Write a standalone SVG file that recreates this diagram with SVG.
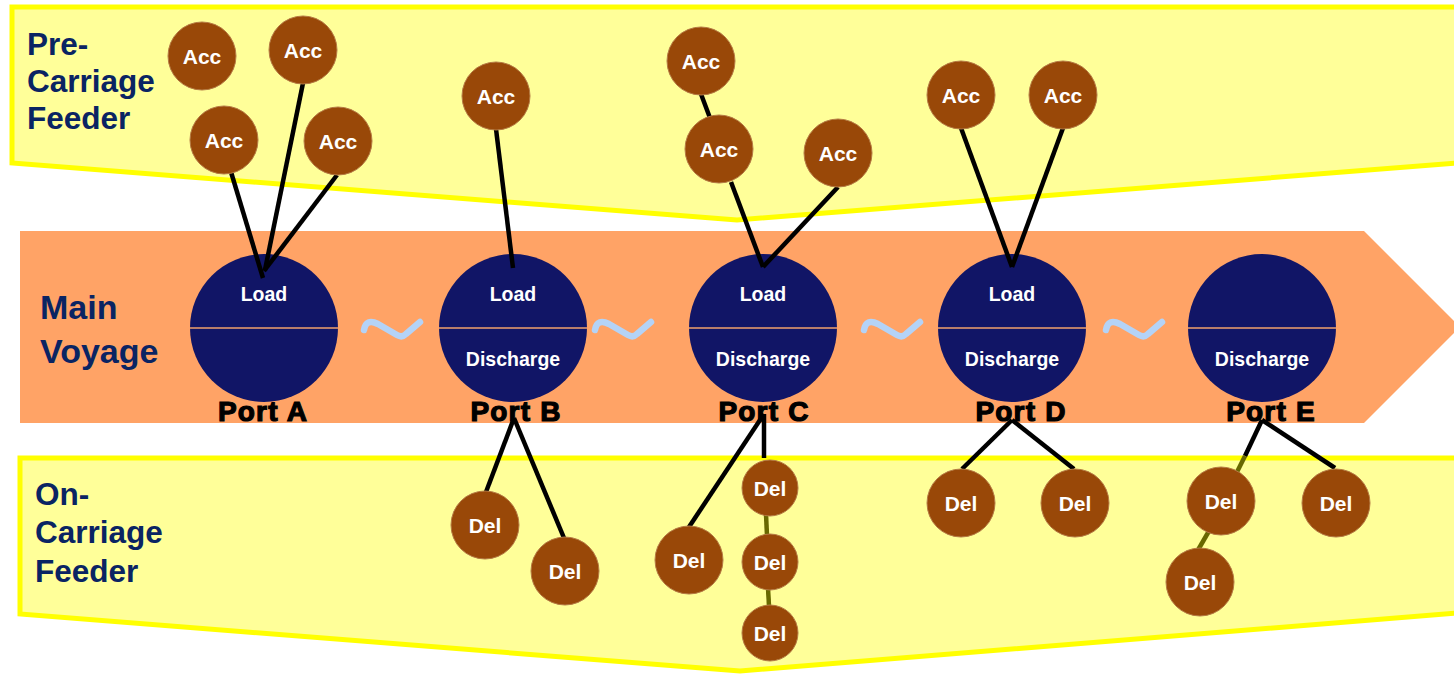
<svg xmlns="http://www.w3.org/2000/svg" xmlns:xlink="http://www.w3.org/1999/xlink" width="1454" height="674" viewBox="0 0 1454 674">
<style>
.band{fill:#FFFF99;stroke:#FFFF00;stroke-width:5;stroke-linejoin:miter}
.main{fill:#FFA366}
.lbl{font-family:"Liberation Sans",Arial,sans-serif;font-weight:bold;fill:#0A2463}
.port{fill:#111566}
.div{stroke:#F2A06C;stroke-width:1.6}
.pt{font-family:"Liberation Sans",Arial,sans-serif;font-weight:bold;font-size:19.5px;fill:#FFFFFF;text-anchor:middle}
.pname{font-family:"Liberation Sans",Arial,sans-serif;font-weight:bold;font-size:28px;fill:#000;stroke:#000;stroke-width:1.2;letter-spacing:1.2px;text-anchor:middle}
.n{fill:#994808;stroke:#B57A44;stroke-width:1}
.nt{font-family:"Liberation Sans",Arial,sans-serif;font-weight:bold;font-size:21px;fill:#FFFFFF;text-anchor:middle}
.c{stroke:#000;stroke-width:4.5;fill:none}
.o{stroke:#686800;stroke-width:4.5;fill:none}
.tl{fill:none;stroke:#B4D3F7;stroke-width:6.5;stroke-linecap:round;stroke-linejoin:round}
</style>
<defs>
<path id="tilde" d="M0,0 Q2,-12 14,-6 L33,5 Q38,8 42,4 L56,-8"/>
</defs>
<g id="pre-carriage">
<polygon class="band" points="12,7 1470,7 1470,162 737,220 12,163"/>
<text class="lbl" font-size="31.5" x="27" y="55">Pre-</text>
<text class="lbl" font-size="31.5" x="27" y="92">Carriage</text>
<text class="lbl" font-size="31.5" x="27" y="129">Feeder</text>
</g>
<g id="on-carriage">
<polygon class="band" points="20,458 1470,458 1470,612 740,671 20,614"/>
<text class="lbl" font-size="31.5" x="35" y="505">On-</text>
<text class="lbl" font-size="31.5" x="35" y="543">Carriage</text>
<text class="lbl" font-size="31.5" x="35" y="582">Feeder</text>
</g>
<g id="main-voyage">
<polygon class="main" points="20,231 1364,231 1460,327 1364,423 20,423"/>
<text class="lbl" font-size="34" x="40" y="319">Main</text>
<text class="lbl" font-size="34" x="40" y="363">Voyage</text>
</g>
<g id="tildes">
<use xlink:href="#tilde" href="#tilde" class="tl" transform="translate(364,330)"/>
<use xlink:href="#tilde" href="#tilde" class="tl" transform="translate(595,330)"/>
<use xlink:href="#tilde" href="#tilde" class="tl" transform="translate(864,330)"/>
<use xlink:href="#tilde" href="#tilde" class="tl" transform="translate(1106,330)"/>
</g>
<g id="port-a">
<circle class="port" cx="264" cy="328" r="74"/>
<line class="div" x1="190" y1="328" x2="338" y2="328"/>
<text class="pt" x="264" y="301">Load</text>
<text class="pname" x="263" y="421">Port A</text>
</g>
<g id="port-b">
<circle class="port" cx="513" cy="328" r="74"/>
<line class="div" x1="439" y1="328" x2="587" y2="328"/>
<text class="pt" x="513" y="301">Load</text>
<text class="pt" x="513" y="366">Discharge</text>
<text class="pname" x="516" y="421">Port B</text>
</g>
<g id="port-c">
<circle class="port" cx="763" cy="328" r="74"/>
<line class="div" x1="689" y1="328" x2="837" y2="328"/>
<text class="pt" x="763" y="301">Load</text>
<text class="pt" x="763" y="366">Discharge</text>
<text class="pname" x="764" y="421">Port C</text>
</g>
<g id="port-d">
<circle class="port" cx="1012" cy="328" r="74"/>
<line class="div" x1="938" y1="328" x2="1086" y2="328"/>
<text class="pt" x="1012" y="301">Load</text>
<text class="pt" x="1012" y="366">Discharge</text>
<text class="pname" x="1021" y="421">Port D</text>
</g>
<g id="port-e">
<circle class="port" cx="1262" cy="328" r="74"/>
<line class="div" x1="1188" y1="328" x2="1336" y2="328"/>
<text class="pt" x="1262" y="366">Discharge</text>
<text class="pname" x="1271" y="421">Port E</text>
</g>
<g id="connectors">
<line class="c" x1="231" y1="172" x2="263" y2="278"/>
<line class="c" x1="303" y1="83" x2="265" y2="270"/>
<line class="c" x1="337" y1="175" x2="264" y2="271"/>
<line class="c" x1="496" y1="129" x2="513" y2="268"/>
<line class="c" x1="701" y1="94" x2="710" y2="118"/>
<line class="c" x1="731" y1="182" x2="763" y2="267"/>
<line class="c" x1="838" y1="187" x2="763" y2="267"/>
<line class="c" x1="961" y1="128" x2="1012" y2="267"/>
<line class="c" x1="1063" y1="128" x2="1012" y2="267"/>
<line class="c" x1="514" y1="418" x2="486" y2="492"/>
<line class="c" x1="514" y1="418" x2="564" y2="538"/>
<line class="c" x1="764" y1="414" x2="689" y2="527"/>
<line class="c" x1="764" y1="414" x2="764" y2="458"/>
<line class="o" x1="766" y1="514" x2="767" y2="536"/>
<line class="o" x1="768" y1="588" x2="769" y2="606"/>
<line class="c" x1="1012" y1="420" x2="962" y2="469"/>
<line class="c" x1="1012" y1="420" x2="1074" y2="469"/>
<line class="c" x1="1262" y1="420" x2="1245" y2="456"/>
<line class="o" x1="1245" y1="456" x2="1237" y2="472"/>
<line class="c" x1="1262" y1="420" x2="1335" y2="468"/>
<line class="o" x1="1209" y1="531" x2="1198" y2="550"/>
</g>
<g id="acc-a1"><circle class="n" cx="202" cy="56" r="34"/><text class="nt" x="202" y="63.5">Acc</text></g>
<g id="acc-a2"><circle class="n" cx="303" cy="50" r="34"/><text class="nt" x="303" y="57.5">Acc</text></g>
<g id="acc-a3"><circle class="n" cx="224" cy="140" r="34"/><text class="nt" x="224" y="147.5">Acc</text></g>
<g id="acc-a4"><circle class="n" cx="338" cy="141" r="34"/><text class="nt" x="338" y="148.5">Acc</text></g>
<g id="acc-b1"><circle class="n" cx="496" cy="96" r="34"/><text class="nt" x="496" y="103.5">Acc</text></g>
<g id="acc-c1"><circle class="n" cx="701" cy="61" r="34"/><text class="nt" x="701" y="68.5">Acc</text></g>
<g id="acc-c2"><circle class="n" cx="719" cy="149" r="34"/><text class="nt" x="719" y="156.5">Acc</text></g>
<g id="acc-c3"><circle class="n" cx="838" cy="153" r="34"/><text class="nt" x="838" y="160.5">Acc</text></g>
<g id="acc-d1"><circle class="n" cx="961" cy="95" r="34"/><text class="nt" x="961" y="102.5">Acc</text></g>
<g id="acc-d2"><circle class="n" cx="1063" cy="95" r="34"/><text class="nt" x="1063" y="102.5">Acc</text></g>
<g id="del-b1"><circle class="n" cx="485" cy="525" r="34"/><text class="nt" x="485" y="532.5">Del</text></g>
<g id="del-b2"><circle class="n" cx="565" cy="571" r="34"/><text class="nt" x="565" y="578.5">Del</text></g>
<g id="del-c1"><circle class="n" cx="689" cy="560" r="34"/><text class="nt" x="689" y="567.5">Del</text></g>
<g id="del-c2"><circle class="n" cx="770" cy="488" r="28"/><text class="nt" x="770" y="495.5">Del</text></g>
<g id="del-c3"><circle class="n" cx="770" cy="562" r="28"/><text class="nt" x="770" y="569.5">Del</text></g>
<g id="del-c4"><circle class="n" cx="770" cy="633" r="28"/><text class="nt" x="770" y="640.5">Del</text></g>
<g id="del-d1"><circle class="n" cx="961" cy="503" r="34"/><text class="nt" x="961" y="510.5">Del</text></g>
<g id="del-d2"><circle class="n" cx="1075" cy="503" r="34"/><text class="nt" x="1075" y="510.5">Del</text></g>
<g id="del-e1"><circle class="n" cx="1221" cy="501" r="34"/><text class="nt" x="1221" y="508.5">Del</text></g>
<g id="del-e2"><circle class="n" cx="1336" cy="503" r="34"/><text class="nt" x="1336" y="510.5">Del</text></g>
<g id="del-e3"><circle class="n" cx="1200" cy="582" r="34"/><text class="nt" x="1200" y="589.5">Del</text></g>
</svg>
